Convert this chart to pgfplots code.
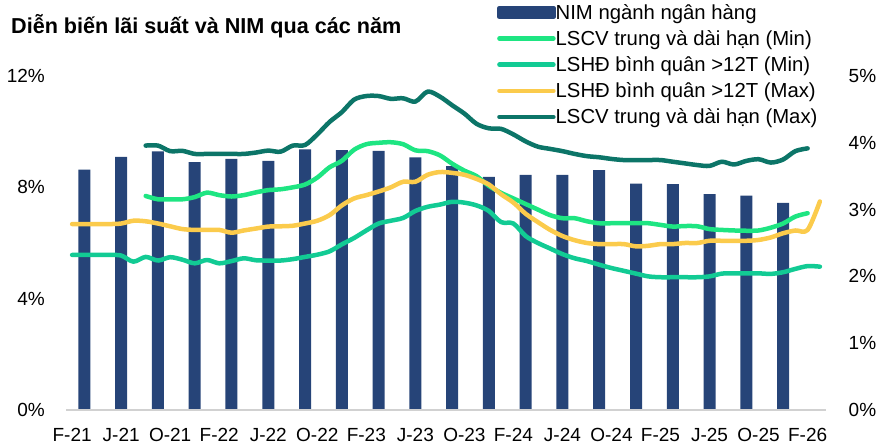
\documentclass[border=0pt]{standalone}
\usepackage{pgfplots}
\pgfplotsset{compat=1.18}
\usepackage{fontspec}
\setmainfont{Liberation Sans}
\definecolor{nimc}{HTML}{264478}
\definecolor{lscvmin}{HTML}{1EE582}
\definecolor{lshdmin}{HTML}{12CB94}
\definecolor{lshdmax}{HTML}{FBCB4C}
\definecolor{lscvmax}{HTML}{0C7568}
\newcommand\tickfont{\fontsize{19bp}{22bp}\selectfont}
\newcommand\legfont{\fontsize{20.3bp}{23bp}\selectfont}
\begin{document}
\begin{tikzpicture}
\useasboundingbox (0,0) rectangle (877bp,444bp);
\node[anchor=base west, inner sep=0pt, font=\fontsize{21.6bp}{24bp}\selectfont\bfseries] at (11bp,410.7bp) {Diễn biến lãi suất và NIM qua các năm};
\begin{axis}[
  at={(66bp,34bp)}, anchor=south west, scale only axis, width=760bp, height=334bp,
  xmin=-0.5, xmax=61.5, ymin=0, ymax=5,
  axis x line=none, axis y line*=right, y axis line style={draw=none},
  major tick length=0pt,
  ytick={0,1,2,3,4,5}, yticklabels={0\%,1\%,2\%,3\%,4\%,5\%},
  yticklabel style={font=\tickfont, inner sep=0pt, text width=30bp, align=right, xshift=20bp},
  ybar, bar width=12bp,
]
\addplot[fill=nimc, draw=none] coordinates {
(1,3.60) (4,3.79) (7,3.87) (10,3.71) (13,3.76) (16,3.73) (19,3.90) (22,3.89) (25,3.88) (28,3.78)
(31,3.65) (34,3.49) (37,3.52) (40,3.52) (43,3.59) (46,3.39) (49,3.38) (52,3.23) (55,3.21) (58,3.10)};
\end{axis}
\begin{axis}[
  at={(66bp,34bp)}, anchor=south west, scale only axis, width=760bp, height=334bp,
  xmin=-0.5, xmax=61.5, ymin=0, ymax=12,
  axis x line*=bottom, axis y line*=left,
  x axis line style={draw=black!18, line width=1.3bp, -},
  y axis line style={draw=none},
  major tick length=0pt,
  xtick={0,4,...,60},
  xticklabels={F-21,J-21,O-21,F-22,J-22,O-22,F-23,J-23,O-23,F-24,J-24,O-24,F-25,J-25,O-25,F-26},
  xticklabel style={font=\tickfont, inner sep=0pt, yshift=-18bp},
  ytick={0,4,8,12}, yticklabels={0\%,4\%,8\%,12\%},
  yticklabel style={font=\tickfont, inner sep=0pt, xshift=-21bp},
  every axis plot/.append style={line width=4.5bp, smooth, line cap=round, line join=round},
  legend image code/.code={\draw[#1,line width=4.5bp] (0bp,0bp) -- (54bp,0bp);},
  legend style={at={(0.5671,1.2156)}, anchor=north west, draw=none, fill=none, inner sep=0pt,
    font=\legfont, row sep=9.7bp, nodes={inner sep=0pt},
    /tikz/every even column/.append style={column sep=8bp}},
  legend cell align=left,
]
\addlegendimage{legend image code/.code={\fill[nimc] (0bp,-4.5bp) rectangle (54bp,4.5bp);}}
\addlegendentry{NIM ngành ngân hàng}
\addplot[lscvmin] coordinates {
(6,7.69) (7,7.57) (8,7.57) (9,7.57) (10,7.65) (11,7.81) (12,7.72) (13,7.67) (14,7.72) (15,7.82)
(16,7.90) (17,7.93) (18,8.00) (19,8.10) (20,8.35) (21,8.72) (22,8.95) (23,9.35) (24,9.55) (25,9.60)
(26,9.62) (27,9.55) (28,9.33) (29,9.30) (30,9.15) (31,8.85) (32,8.60) (33,8.40) (34,8.05) (35,7.80)
(36,7.60) (37,7.40) (38,7.20) (39,7.00) (40,6.89) (41,6.89) (42,6.78) (43,6.71) (44,6.71) (45,6.71)
(46,6.71) (47,6.71) (48,6.65) (49,6.59) (50,6.61) (51,6.60) (52,6.50) (53,6.47) (54,6.45) (55,6.44)
(56,6.45) (57,6.55) (58,6.70) (59,6.95) (60,7.07)};
\addlegendentry{LSCV trung và dài hạn (Min)}
\addplot[lshdmin] coordinates {
(0,5.57) (1,5.57) (2,5.57) (3,5.57) (4,5.55) (5,5.33) (6,5.50) (7,5.37) (8,5.49) (9,5.40)
(10,5.27) (11,5.39) (12,5.27) (13,5.35) (14,5.45) (15,5.38) (16,5.37) (17,5.37) (18,5.42) (19,5.50)
(20,5.58) (21,5.70) (22,5.95) (23,6.18) (24,6.45) (25,6.70) (26,6.80) (27,6.90) (28,7.15) (29,7.30)
(30,7.38) (31,7.48) (32,7.45) (33,7.35) (34,7.15) (35,6.75) (36,6.70) (37,6.25) (38,6.00) (39,5.80)
(40,5.60) (41,5.45) (42,5.35) (43,5.22) (44,5.10) (45,5.00) (46,4.90) (47,4.80) (48,4.77) (49,4.77)
(50,4.77) (51,4.77) (52,4.80) (53,4.90) (54,4.91) (55,4.91) (56,4.91) (57,4.89) (58,4.95) (59,5.07)
(60,5.17) (61,5.15)};
\addlegendentry{LSHĐ bình quân >12T (Min)}
\addplot[lshdmax] coordinates {
(0,6.68) (1,6.68) (2,6.68) (3,6.68) (4,6.70) (5,6.80) (6,6.78) (7,6.70) (8,6.60) (9,6.50)
(10,6.47) (11,6.47) (12,6.47) (13,6.37) (14,6.45) (15,6.52) (16,6.59) (17,6.60) (18,6.62) (19,6.70)
(20,6.80) (21,7.00) (22,7.35) (23,7.60) (24,7.72) (25,7.85) (26,8.00) (27,8.20) (28,8.20) (29,8.45)
(30,8.55) (31,8.52) (32,8.45) (33,8.30) (34,8.10) (35,7.75) (36,7.45) (37,7.05) (38,6.75) (39,6.47)
(40,6.25) (41,6.10) (42,6.00) (43,5.96) (44,5.96) (45,5.96) (46,5.88) (47,5.90) (48,5.96) (49,5.96)
(50,6.00) (51,6.00) (52,6.08) (53,6.08) (54,6.08) (55,6.08) (56,6.11) (57,6.20) (58,6.35) (59,6.45)
(60,6.47) (61,7.49)};
\addlegendentry{LSHĐ bình quân >12T (Max)}
\addplot[lscvmax] coordinates {
(6,9.50) (7,9.50) (8,9.30) (9,9.31) (10,9.20) (11,9.20) (12,9.20) (13,9.20) (14,9.20) (15,9.25)
(16,9.32) (17,9.28) (18,9.50) (19,9.52) (20,9.90) (21,10.35) (22,10.70) (23,11.15) (24,11.28) (25,11.28)
(26,11.18) (27,11.20) (28,11.08) (29,11.44) (30,11.26) (31,10.95) (32,10.65) (33,10.28) (34,10.12) (35,10.10)
(36,9.90) (37,9.65) (38,9.46) (39,9.38) (40,9.30) (41,9.20) (42,9.12) (43,9.08) (44,9.02) (45,8.98)
(46,8.98) (47,8.98) (48,8.98) (49,8.92) (50,8.86) (51,8.80) (52,8.77) (53,8.92) (54,8.82) (55,8.95)
(56,9.01) (57,8.89) (58,9.00) (59,9.30) (60,9.40)};
\addlegendentry{LSCV trung và dài hạn (Max)}
\end{axis}
\end{tikzpicture}
\end{document}
